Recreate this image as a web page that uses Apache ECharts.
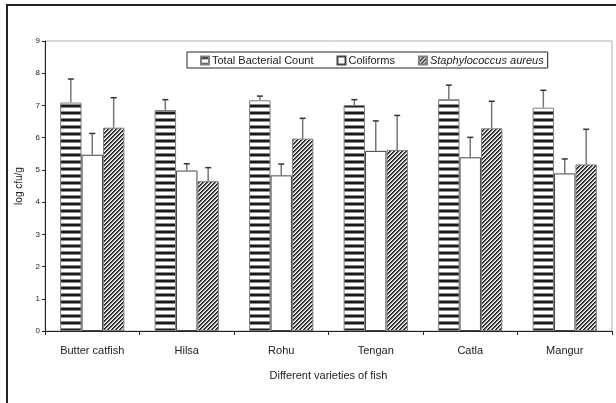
<!DOCTYPE html>
<html>
<head>
<meta charset="utf-8">
<script src="https://cdn.jsdelivr.net/npm/echarts@6/dist/echarts.min.js"></script>
<style>html,body{margin:0;padding:0;background:#fff}#c{width:616px;height:403px}</style>
</head>
<body>
<div id="c"></div>
<script>
var categories = ['Butter catfish', 'Hilsa', 'Rohu', 'Tengan', 'Catla', 'Mangur'];
var seriesNames = ['Total Bacterial Count', 'Coliforms', 'Staphylococcus aureus'];
var tbc = [7.09, 6.86, 7.16, 7.01, 7.19, 6.93];
var tbcSd = [0.73, 0.32, 0.13, 0.17, 0.44, 0.54];
var coli = [5.47, 4.98, 4.83, 5.59, 5.39, 4.89];
var coliSd = [0.66, 0.21, 0.35, 0.93, 0.62, 0.45];
var staph = [6.31, 4.65, 5.97, 5.62, 6.29, 5.17];
var staphSd = [0.93, 0.42, 0.63, 1.07, 0.84, 1.09];
var yTicks = [0, 1, 2, 3, 4, 5, 6, 7, 8, 9];

function stripePattern() {
  var c = document.createElement('canvas');
  c.width = 4; c.height = 7;
  var g = c.getContext('2d');
  g.fillStyle = '#fff'; g.fillRect(0, 0, 4, 7);
  g.fillStyle = '#1a1a1a'; g.fillRect(0, 0, 4, 2);
  g.fillStyle = '#8a8a8a'; g.fillRect(0, 2, 4, 1);
  g.fillStyle = '#8a8a8a'; g.fillRect(0, 6, 4, 1);
  return c;
}
function hatchPattern() {
  var c = document.createElement('canvas');
  c.width = 4; c.height = 4;
  var g = c.getContext('2d');
  var img = g.createImageData(4, 4);
  for (var y = 0; y < 4; y++) for (var x = 0; x < 4; x++) {
    var m = (x + y) % 4;
    var v = m === 0 ? 30 : (m === 1 ? 80 : (m === 2 ? 200 : 245));
    var i = (y * 4 + x) * 4;
    img.data[i] = v; img.data[i + 1] = v; img.data[i + 2] = v; img.data[i + 3] = 255;
  }
  g.putImageData(img, 0, 0);
  return c;
}

var CAT_GAP = 0.32;
function errSeries(idx, vals, sds) {
  return {
    type: 'custom',
    z: 10,
    silent: true,
    data: vals.map(function (v, i) { return [i, v, sds[i]]; }),
    renderItem: function (params, api) {
      var ci = api.value(0), v = api.value(1), sd = api.value(2);
      var p0 = api.coord([ci, v]);
      var p1 = api.coord([ci, v + sd]);
      var cw = api.size([1, 0])[0];
      var bw = cw * (1 - CAT_GAP) / 3;
      var x = p0[0] + (idx - 1) * bw;
      return {
        type: 'group',
        children: [
          { type: 'line', shape: { x1: x, y1: p0[1], x2: x, y2: p1[1] }, style: { stroke: '#777', lineWidth: 1.5 } },
          { type: 'line', shape: { x1: x - 3, y1: p1[1], x2: x + 3, y2: p1[1] }, style: { stroke: '#333', lineWidth: 1.5 } }
        ]
      };
    }
  };
}

var chart = echarts.init(document.getElementById('c'), null, { renderer: 'canvas' });
var font = 'Liberation Sans, Arial, sans-serif';
chart.setOption({
  animation: false,
  textStyle: { fontFamily: font },
  graphic: [{
    type: 'rect', shape: { x: 7, y: 5, width: 640, height: 420 },
    style: { fill: 'none', stroke: '#222', lineWidth: 2 }, z: 0
  }],
  grid: { left: 45, right: 4, top: 41, bottom: 72, show: true, borderColor: '#b0b0b0', borderWidth: 1, backgroundColor: 'transparent' },
  legend: {
    left: 187, top: 52,
    padding: [3, 4, 2, 13],
    itemGap: 23, itemWidth: 8, itemHeight: 8,
    borderColor: '#222', borderWidth: 1,
    backgroundColor: '#fff',
    icon: 'rect',
    data: seriesNames,
    textStyle: { fontSize: 11, color: '#222', fontFamily: font, padding: [0, 0, 0, -2], rich: { i: { fontStyle: 'italic', fontSize: 11, color: '#222', fontFamily: font } } },
    formatter: function (n) { return n === 'Staphylococcus aureus' ? '{i|' + n + '}' : n; }
  },
  xAxis: {
    type: 'category', data: categories,
    name: 'Different varieties of fish', nameLocation: 'middle', nameGap: 39,
    nameTextStyle: { fontSize: 11, color: '#222' },
    axisLine: { lineStyle: { color: '#222', width: 1 } },
    axisTick: { show: true, length: 4, lineStyle: { color: '#222' } },
    axisLabel: { fontSize: 11, color: '#222', margin: 14 },
    splitLine: { show: false }
  },
  yAxis: {
    type: 'value', min: yTicks[0], max: yTicks[yTicks.length - 1], interval: 1,
    name: 'log cfu/g', nameLocation: 'middle', nameGap: 14,
    nameTextStyle: { fontSize: 10, color: '#222' },
    axisLine: { show: true, lineStyle: { color: '#222', width: 1 } },
    axisTick: { show: true, length: 3, lineStyle: { color: '#222' } },
    axisLabel: { fontSize: 8, color: '#222', margin: 5 },
    splitLine: { show: false }
  },
  series: [
    { name: seriesNames[0], type: 'bar', data: tbc, barGap: '0%', barCategoryGap: (CAT_GAP * 100) + '%',
      itemStyle: { color: { image: stripePattern(), repeat: 'repeat' }, borderColor: '#808080', borderWidth: 1 } },
    { name: seriesNames[1], type: 'bar', data: coli, barGap: '0%', barCategoryGap: (CAT_GAP * 100) + '%',
      itemStyle: { color: '#fff', borderColor: '#444', borderWidth: 1 } },
    { name: seriesNames[2], type: 'bar', data: staph, barGap: '0%', barCategoryGap: (CAT_GAP * 100) + '%',
      itemStyle: { color: { image: hatchPattern(), repeat: 'repeat' }, borderColor: '#808080', borderWidth: 1 } },
    errSeries(0, tbc, tbcSd),
    errSeries(1, coli, coliSd),
    errSeries(2, staph, staphSd)
  ]
});
</script>
</body>
</html>
